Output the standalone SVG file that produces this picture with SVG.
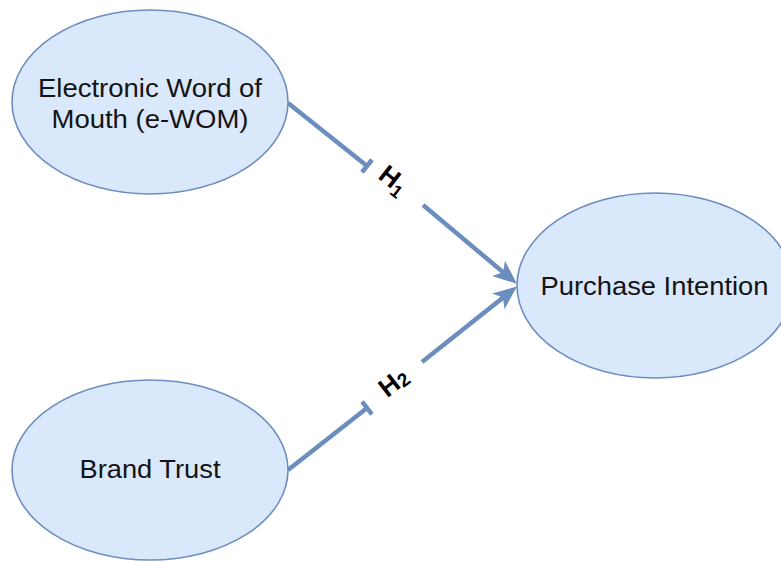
<svg xmlns="http://www.w3.org/2000/svg" width="781" height="561" viewBox="0 0 781 561">
  <style>
    .node { fill: #dae8fc; stroke: #6c8ebf; stroke-width: 1.6; }
    .label { font-family: "Liberation Sans", Arial, sans-serif; font-size: 25px; fill: #141414; text-anchor: middle; }
    .edge { fill: none; stroke: #6c8ebf; stroke-width: 4.5; }
    .hyp { font-family: "Liberation Sans", Arial, sans-serif; font-weight: bold; fill: #000000; text-anchor: middle; }
  </style>
  <defs>
    <marker id="arrow" markerUnits="userSpaceOnUse" viewBox="0 0 24 22" markerWidth="24" markerHeight="22" refX="15" refY="11" orient="auto">
      <path d="M0 1 L24 11 L0 21 L6 11 Z" fill="#6c8ebf"/>
    </marker>
    <marker id="tee" markerUnits="userSpaceOnUse" viewBox="-3 -9 6 18" markerWidth="6" markerHeight="18" refX="0" refY="0" orient="auto" overflow="visible">
      <path d="M0 -8 V8" stroke="#6c8ebf" stroke-width="4.5"/>
    </marker>
  </defs>
  <rect width="781" height="561" fill="#ffffff"/>

  <g id="connectors">
    <g id="edge-h1">
      <path class="edge" d="M288 103 L367 166" marker-end="url(#tee)"/>
      <path class="edge" d="M423 205 L510 278" marker-end="url(#arrow)"/>
      <text class="hyp" font-size="26" transform="translate(392 182) rotate(38)" x="0" y="6">H<tspan font-size="18" dy="5">1</tspan></text>
    </g>
    <g id="edge-h2">
      <path class="edge" d="M288 470 L367 408" marker-end="url(#tee)"/>
      <path class="edge" d="M422 362 L510 292" marker-end="url(#arrow)"/>
      <text class="hyp" font-size="26" transform="translate(394 383) rotate(-38)" x="0" y="8">H<tspan font-size="19" dy="2">2</tspan></text>
    </g>
  </g>

  <g id="ewom">
    <ellipse class="node" cx="150" cy="102" rx="138" ry="92"/>
    <text class="label" x="150" y="97" textLength="224" lengthAdjust="spacingAndGlyphs">Electronic Word of</text>
    <text class="label" x="150" y="128" textLength="197" lengthAdjust="spacingAndGlyphs">Mouth (e-WOM)</text>
  </g>

  <g id="brand-trust">
    <ellipse class="node" cx="150" cy="470" rx="138" ry="90"/>
    <text class="label" x="150" y="478" textLength="141" lengthAdjust="spacingAndGlyphs">Brand Trust</text>
  </g>

  <g id="purchase-intention">
    <ellipse class="node" cx="655" cy="285.5" rx="138" ry="92.5"/>
    <text class="label" x="654.5" y="295" textLength="228" lengthAdjust="spacingAndGlyphs">Purchase Intention</text>
  </g>
</svg>
